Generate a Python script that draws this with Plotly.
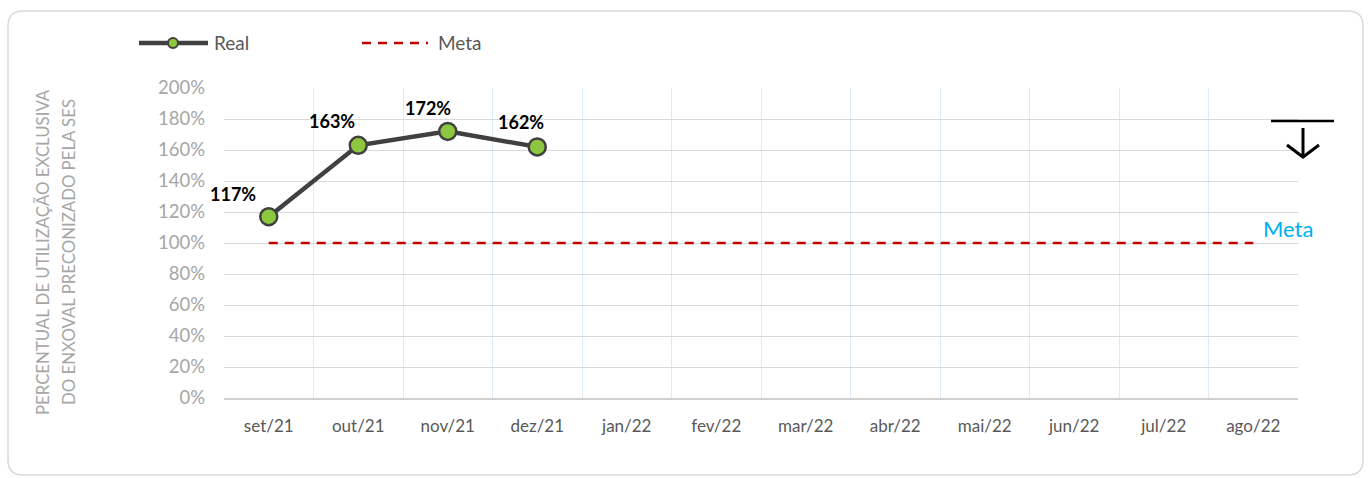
import plotly.graph_objects as go

# --- data ---
months = ["set/21", "out/21", "nov/21", "dez/21", "jan/22", "fev/22",
          "mar/22", "abr/22", "mai/22", "jun/22", "jul/22", "ago/22"]
real_values = [117, 163, 172, 162]
meta_values = [100] * len(months)
y_ticks = [0, 20, 40, 60, 80, 100, 120, 140, 160, 180, 200]

# label offsets (px) for the value labels of the Real series
label_dx = [-36, -26, -20, -16]
label_dy = [23, 24, 23, 25]

W, H = 1370, 478
L, R, T, B = 224, 1298, 88, 398  # plot area in pixels

FONT = "Lato"
DARK = "#404040"
GREEN = "#8DC63F"
RED = "#C00000"


def px(x):
    return (x - L) / (R - L)


def py(y):
    return (B - y) / (B - T)


xs = list(range(len(months)))

fig = go.Figure()

fig.add_trace(go.Scatter(
    x=xs, y=meta_values, mode="lines", name="Meta",
    line=dict(color=RED, width=2.5, dash="9px,7px"),
    showlegend=False, hoverinfo="skip",
))

fig.add_trace(go.Scatter(
    x=xs[:len(real_values)], y=real_values, mode="lines+markers", name="Real",
    line=dict(color=DARK, width=4.5),
    marker=dict(size=17, color=GREEN, line=dict(color=DARK, width=2.5)),
    showlegend=False,
))

annotations = []
for i, v in enumerate(real_values):
    annotations.append(dict(
        x=xs[i], y=v, xref="x", yref="y", text=f"{v}%", showarrow=False,
        xshift=label_dx[i], yshift=label_dy[i],
        font=dict(family=FONT, size=18, color="#000000", weight="bold"),
    ))

# y-axis title (two lines)
title_lines = ["PERCENTUAL DE UTILIZAÇÃO EXCLUSIVA", "DO ENXOVAL PRECONIZADO PELA SES"]
for xpix, line in zip([42, 68], title_lines):
    annotations.append(dict(
        x=px(xpix), y=py(252), xref="paper", yref="paper", text=line,
        showarrow=False, textangle=-90, xanchor="center", yanchor="middle",
        font=dict(family=FONT, size=16.8, color="#A6A6A6"),
    ))

# legend texts
annotations.append(dict(x=px(212), y=py(43), xref="paper", yref="paper", text="Real",
                        showarrow=False, xanchor="left", yanchor="middle",
                        font=dict(family=FONT, size=19, color="#595959")))
annotations.append(dict(x=px(436), y=py(43), xref="paper", yref="paper", text="Meta",
                        showarrow=False, xanchor="left", yanchor="middle",
                        font=dict(family=FONT, size=19, color="#595959")))

# target label at right
annotations.append(dict(x=px(1288), y=py(228), xref="paper", yref="paper", text="Meta",
                        showarrow=False, xanchor="center", yanchor="middle",
                        font=dict(family=FONT, size=22, color="#00B0F0")))

shapes = []
# legend symbols
shapes.append(dict(type="line", xref="paper", yref="paper",
                   x0=px(139), x1=px(208), y0=py(43), y1=py(43),
                   line=dict(color=DARK, width=4.5)))
shapes.append(dict(type="circle", xref="paper", yref="paper",
                   x0=px(168), x1=px(178), y0=py(48), y1=py(38),
                   fillcolor=GREEN, line=dict(color=DARK, width=2)))
shapes.append(dict(type="line", xref="paper", yref="paper",
                   x0=px(362), x1=px(428), y0=py(43), y1=py(43),
                   line=dict(color=RED, width=2.5, dash="9px,7px")))

# "lower is better" arrow marker
arrow_col = "#000000"
shapes.append(dict(type="line", xref="paper", yref="paper",
                   x0=px(1271), x1=px(1334), y0=py(121), y1=py(121),
                   line=dict(color=arrow_col, width=2.5)))
shapes.append(dict(type="line", xref="paper", yref="paper",
                   x0=px(1303), x1=px(1303), y0=py(128), y1=py(157),
                   line=dict(color=arrow_col, width=3)))
shapes.append(dict(type="path", xref="paper", yref="paper",
                   path=f"M{px(1287)},{py(145)} L{px(1303)},{py(157)} L{px(1319)},{py(145)}",
                   line=dict(color=arrow_col, width=3)))

# rounded outer frame
x0, y0, x1, y1, r = 8, 11, 1363, 475, 15
frame = (
    f"M{px(x0 + r)},{py(y0)} L{px(x1 - r)},{py(y0)} "
    f"Q{px(x1)},{py(y0)} {px(x1)},{py(y0 + r)} "
    f"L{px(x1)},{py(y1 - r)} Q{px(x1)},{py(y1)} {px(x1 - r)},{py(y1)} "
    f"L{px(x0 + r)},{py(y1)} Q{px(x0)},{py(y1)} {px(x0)},{py(y1 - r)} "
    f"L{px(x0)},{py(y0 + r)} Q{px(x0)},{py(y0)} {px(x0 + r)},{py(y0)} Z"
)
shapes.append(dict(type="path", xref="paper", yref="paper", path=frame,
                   line=dict(color="#D9D9D9", width=1.5), layer="below"))

fig.update_layout(
    width=W, height=H,
    margin=dict(l=L, r=W - R, t=T, b=H - B, pad=0),
    paper_bgcolor="white", plot_bgcolor="white",
    font=dict(family=FONT),
    annotations=annotations,
    shapes=shapes,
    showlegend=False,
    xaxis=dict(
        range=[-0.5, len(months) - 0.5],
        tickmode="array", tickvals=xs, ticktext=months,
        showgrid=False, zeroline=False,
        ticks="", ticklabelstandoff=12,
        tickfont=dict(family=FONT, size=17, color="#595959"),
        showline=True, linecolor="#D0D0D0", linewidth=2,
        minor=dict(tickmode="array", tickvals=[i - 0.5 for i in range(len(months) + 1)],
                   showgrid=True, gridcolor="#DDEBF7", gridwidth=1, ticks=""),
        fixedrange=True,
    ),
    yaxis=dict(
        range=[0, 200],
        tickmode="array", tickvals=y_ticks,
        ticktext=[f"{v}%" for v in y_ticks],
        showgrid=True, gridcolor="#D9D9D9", gridwidth=1,
        zeroline=False, ticks="", ticklabelstandoff=18,
        tickfont=dict(family=FONT, size=18.5, color="#A6A6A6"),
        fixedrange=True,
    ),
)

fig.write_html("out.html")
